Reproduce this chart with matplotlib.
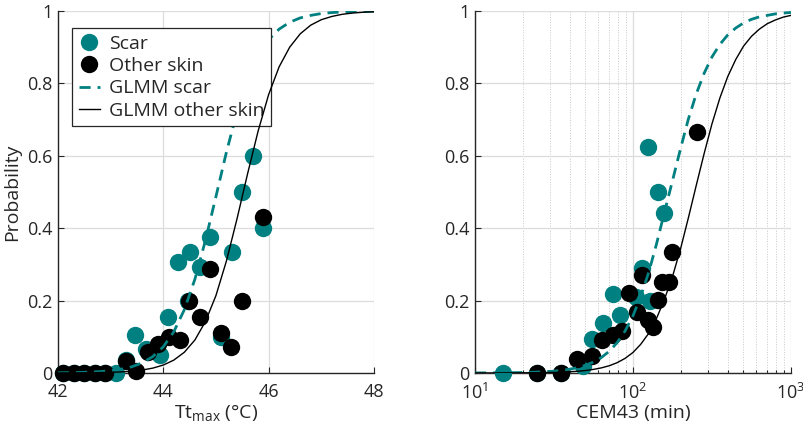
import matplotlib
matplotlib.use("Agg")
import matplotlib.pyplot as plt
from matplotlib.ticker import LogLocator, NullFormatter, FixedLocator

FONT = "Open Sans"
plt.rcParams['font.family'] = [FONT, 'DejaVu Sans']
plt.rcParams['mathtext.fontset'] = 'custom'
plt.rcParams['mathtext.rm'] = FONT
plt.rcParams['mathtext.it'] = FONT
plt.rcParams['mathtext.bf'] = FONT

TEAL = '#008080'
TXT = '#262626'

# ---- Left panel: Tt_max ----
tt_scar = [42.1, 42.3, 42.5, 42.7, 42.9, 43.1, 43.3, 43.46, 43.68, 43.93, 44.09, 44.28,
           44.47, 44.50, 44.69, 44.88, 45.1, 45.30, 45.50, 45.71, 45.89]
p_tt_scar = [0, 0, 0, 0, 0, 0, 0.035, 0.104, 0.067, 0.049, 0.155, 0.307,
             0.2, 0.335, 0.294, 0.377, 0.10, 0.333, 0.50, 0.60, 0.40]
tt_other = [42.1, 42.3, 42.5, 42.7, 42.9, 43.3, 43.49, 43.71, 43.90, 44.10, 44.31,
            44.49, 44.70, 44.88, 45.10, 45.29, 45.49, 45.89]
p_tt_other = [0, 0, 0, 0, 0, 0.033, 0.006, 0.058, 0.08, 0.10, 0.09,
              0.2, 0.155, 0.286, 0.111, 0.072, 0.2, 0.43]

tt_fit = [42.0, 42.2, 42.4, 42.6, 42.8, 43.0, 43.2, 43.4, 43.6, 43.8, 44.0, 44.2, 44.4,
          44.6, 44.8, 45.0, 45.2, 45.4, 45.6, 45.8, 46.0, 46.2, 46.4, 46.6, 46.8, 47.0,
          47.2, 47.4, 47.6, 47.8, 48.0]
fit_tt_scar = [0.0005, 0.0009, 0.0014, 0.0024, 0.0039, 0.0064, 0.0105, 0.0171, 0.0279,
               0.0452, 0.0724, 0.114, 0.175, 0.259, 0.366, 0.4875, 0.611, 0.721, 0.810,
               0.875, 0.921, 0.950, 0.969, 0.981, 0.988, 0.993, 0.9957, 0.9974, 0.9984,
               0.9990, 0.9994]
fit_tt_other = [0.00015, 0.00025, 0.0004, 0.0007, 0.0011, 0.0018, 0.0030, 0.0050, 0.0082,
                0.0134, 0.0219, 0.0356, 0.0573, 0.0911, 0.142, 0.214, 0.310, 0.426, 0.550,
                0.668, 0.769, 0.846, 0.900, 0.937, 0.961, 0.976, 0.985, 0.991, 0.9945,
                0.9967, 0.998]

# ---- Right panel: CEM43 ----
cem_scar = [15.0, 24.8, 35.0, 48, 54.8, 64.9, 75, 82.8, 105, 113.5, 128, 124, 144.5, 158]
p_cem_scar = [0, 0, 0, 0.02, 0.093, 0.137, 0.218, 0.160, 0.21, 0.29, 0.2, 0.625, 0.5, 0.443]
cem_other = [24.8, 35.0, 44, 54.8, 63.4, 75, 84.7, 94.9, 105.4, 113.5, 125, 134, 144.5,
             152, 170, 176, 253]
p_cem_other = [0, 0, 0.04, 0.046, 0.09, 0.104, 0.116, 0.221, 0.169, 0.27, 0.146, 0.127,
               0.201, 0.252, 0.252, 0.333, 0.667]

cem_fit = [10, 12.6, 15.8, 20, 25.1, 31.6, 35.5, 39.8, 44.7, 50.1, 56.2, 63.1, 70.8, 79.4,
           89.1, 100, 112, 126, 141, 158, 178, 200, 224, 251, 282, 316, 355, 398, 447,
           501, 562, 631, 708, 794, 891, 1000]
fit_cem_scar = [0.00014, 0.0003, 0.0006, 0.0012, 0.0025, 0.0051, 0.0073, 0.0105, 0.0149,
                0.0212, 0.0302, 0.0427, 0.0601, 0.0839, 0.116, 0.158, 0.212, 0.279, 0.357,
                0.443, 0.532, 0.620, 0.701, 0.770, 0.828, 0.873, 0.908, 0.934, 0.953, 0.967,
                0.977, 0.984, 0.988, 0.992, 0.9944, 0.996]
fit_cem_other = [0.00005, 0.0001, 0.0002, 0.0004, 0.0008, 0.0016, 0.0024, 0.0034, 0.0048,
                 0.0069, 0.0099, 0.0141, 0.0200, 0.0285, 0.0403, 0.0567, 0.0794, 0.110,
                 0.151, 0.203, 0.267, 0.343, 0.428, 0.517, 0.606, 0.688, 0.760, 0.819,
                 0.866, 0.903, 0.930, 0.950, 0.965, 0.975, 0.983, 0.988]

yticks = [0, 0.2, 0.4, 0.6, 0.8, 1]
ytick_labels = ['0', '0.2', '0.4', '0.6', '0.8', '1']
tt_ticks = [42, 44, 46, 48]

fig = plt.figure(figsize=(8.04, 4.34), dpi=100)
axL = fig.add_axes([0.0721, 0.1406, 0.393, 0.834])
axR = fig.add_axes([0.5908, 0.1406, 0.393, 0.834])

MS = 12.5
for ax in (axL, axR):
    for s in ('top', 'right'):
        ax.spines[s].set_visible(False)
    for s in ('left', 'bottom'):
        ax.spines[s].set_color(TXT)
        ax.spines[s].set_linewidth(1.0)
    ax.tick_params(which='both', direction='in', colors=TXT, labelsize=13, width=0.8)
    ax.tick_params(which='major', length=4)
    ax.tick_params(which='minor', length=2.5)
    ax.tick_params(axis='x', which='both', pad=7)
    ax.tick_params(axis='y', which='both', pad=4)
    ax.set_ylim(0, 1)
    ax.set_yticks(yticks)
    ax.set_yticklabels(ytick_labels)
    ax.set_axisbelow(True)

# Left
axL.set_xlim(42, 48)
axL.set_xticks(tt_ticks)
axL.grid(True, which='major', color='#dcdcdc', linewidth=0.9)
axL.plot(tt_scar, p_tt_scar, 'o', color=TEAL, ms=MS, mec='none', label='Scar', zorder=3, clip_on=False)
axL.plot(tt_other, p_tt_other, 'o', color='black', ms=MS, mec='none', label='Other skin', zorder=4, clip_on=False)
axL.plot(tt_fit, fit_tt_scar, color=TEAL, lw=2.0, dashes=(4, 2.5), label='GLMM scar', zorder=5)
axL.plot(tt_fit, fit_tt_other, color='black', lw=1.0, label='GLMM other skin', zorder=6)
axL.set_xlabel('Tt$_{\\mathrm{max}}$ (°C)', fontsize=14, color=TXT, labelpad=1)
axL.set_ylabel('Probability', fontsize=14, color=TXT, labelpad=4)
leg = axL.legend(loc='upper left', bbox_to_anchor=(0.044, 0.953), fontsize=14,
                 frameon=True, fancybox=False, framealpha=1, edgecolor=TXT,
                 handlelength=1.1, handletextpad=0.45, borderpad=0.35, labelspacing=0.22,
                 borderaxespad=0)
leg.get_frame().set_linewidth(0.9)
for t in leg.get_texts():
    t.set_color(TXT)

# Right
axR.set_xscale('log')
axR.set_xlim(10, 1000)
axR.xaxis.set_major_locator(FixedLocator([10, 100, 1000]))
axR.xaxis.set_minor_locator(LogLocator(base=10, subs=[2, 3, 4, 5, 6, 7, 8, 9]))
axR.xaxis.set_minor_formatter(NullFormatter())
axR.grid(True, which='major', color='#dcdcdc', linewidth=0.9)
axR.grid(True, which='minor', axis='x', color='#c8c8c8', linewidth=0.7, linestyle=':')
axR.plot(cem_scar, p_cem_scar, 'o', color=TEAL, ms=MS, mec='none', zorder=3, clip_on=False)
axR.plot(cem_other, p_cem_other, 'o', color='black', ms=MS, mec='none', zorder=4, clip_on=False)
axR.plot(cem_fit, fit_cem_scar, color=TEAL, lw=2.0, dashes=(4, 2.5), zorder=5)
axR.plot(cem_fit, fit_cem_other, color='black', lw=1.0, zorder=6)
axR.set_xlabel('CEM43 (min)', fontsize=14, color=TXT, labelpad=1)

fig.savefig('out.png', dpi=100)
